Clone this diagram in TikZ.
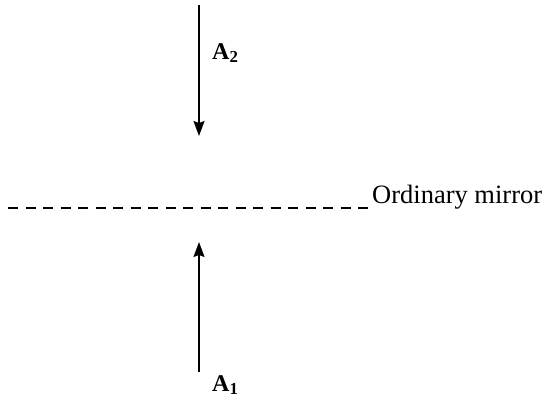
\documentclass[tikz,border=0pt]{standalone}
\usepackage{fontspec}
\setmainfont{Liberation Serif}
\usetikzlibrary{arrows.meta}
\tikzset{
  ray/.style={line width=1.6pt, -{Stealth[width=11pt,length=15pt,inset=2pt]}},
  mirrorline/.style={line width=2.2pt, dash pattern=on 10pt off 7.5pt},
  lab/.style={font=\fontsize{24}{26}\selectfont\bfseries, inner sep=0pt},
  mlab/.style={font=\fontsize{26.5}{28}\selectfont, inner sep=0pt, anchor=base west}
}
\begin{document}
\begin{tikzpicture}[x=1pt,y=-1pt]
\useasboundingbox (0,0) rectangle (547,412);
\coordinate (t0) at (199,5);
\coordinate (t1) at (199,136);
\coordinate (b0) at (199,372);
\coordinate (b1) at (199,242);
\coordinate (m0) at (8,208);
\coordinate (m1) at (373,208);
\draw[ray] (t0) -- (t1);
\draw[ray] (b0) -- (b1);
\draw[mirrorline] (m0) -- (m1);
\node[lab, anchor=west] (a2) at (212,53) {A\textsubscript{2}};
\node[lab, anchor=west] (a1) at (212,385) {A\textsubscript{1}};
\node[mlab] (mir) at (372,203) {Ordinary mirror};
\end{tikzpicture}
\end{document}
